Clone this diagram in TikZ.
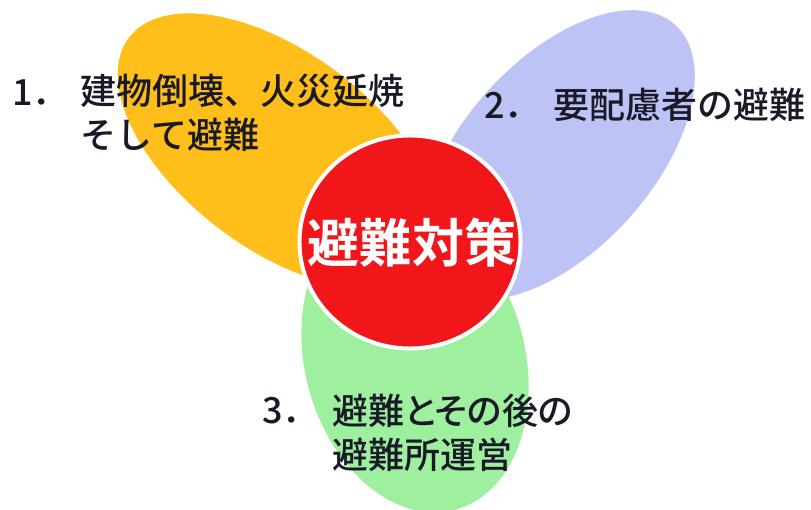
\documentclass[tikz,border=0pt]{standalone}
\usepackage{fontspec}
\setmainfont{Noto Sans CJK JP Medium}[BoldFont={Noto Sans CJK JP Bold}]
\newfontfamily\propjp{Noto Sans CJK JP Medium}[RawFeature=+palt]
\usetikzlibrary{shapes,positioning}
\definecolor{petalgold}{RGB}{255,190,25}
\definecolor{petalblue}{RGB}{190,195,245}
\definecolor{petalgreen}{RGB}{158,240,158}
\definecolor{corered}{RGB}{240,22,25}
\definecolor{ink}{RGB}{25,25,40}

\begin{document}
\begin{tikzpicture}[x=0.025cm,y=0.025cm,
    petal/.style={ellipse,inner sep=0,outer sep=0},
    lbl/.style={text=ink,inner sep=0,align=left,anchor=west,font=\fontsize{25.6}{31.3}\selectfont}]

       \useasboundingbox (0,0) rectangle (811,509);

       % three petals
       \node [petal,fill=petalblue,minimum width=8.75cm,minimum height=4.75cm,rotate=48]  (care) at (558,354) {};
       \node [petal,fill=petalgold,minimum width=9.4cm,minimum height=4.9cm,rotate=-37]   (fire) at (279,358) {};
       \node [petal,fill=petalgreen,minimum width=7.75cm,minimum height=5.5cm,rotate=-75] (shelter) at (415,149) {};

       % centre
       \node [petal,fill=corered,draw=white,line width=0.1cm,minimum width=5.525cm,minimum height=5.325cm] (core) at (410,267) {};
       \node [text=white,inner sep=0,font=\fontsize{37}{40}\selectfont\bfseries] (title) at (412,266) {避難対策};

       % labels
       \node [lbl]  (n1) at (12,416) {1．};
       \node [lbl]  (t1) at (80,396) {建物倒壊、火災延焼\\そして避難};
       \node [lbl]  (n2) at (484,404) {2．};
       \node [lbl]  (t2) at (553,404) {要配慮者の避難};
       \node [lbl]  (n3) at (262,98) {3．};
       \node [lbl,font=\fontsize{25.6}{31.3}\selectfont\propjp]  (t3) at (332,76) {避難とその後の\\避難所運営};
\end{tikzpicture}
\end{document}
